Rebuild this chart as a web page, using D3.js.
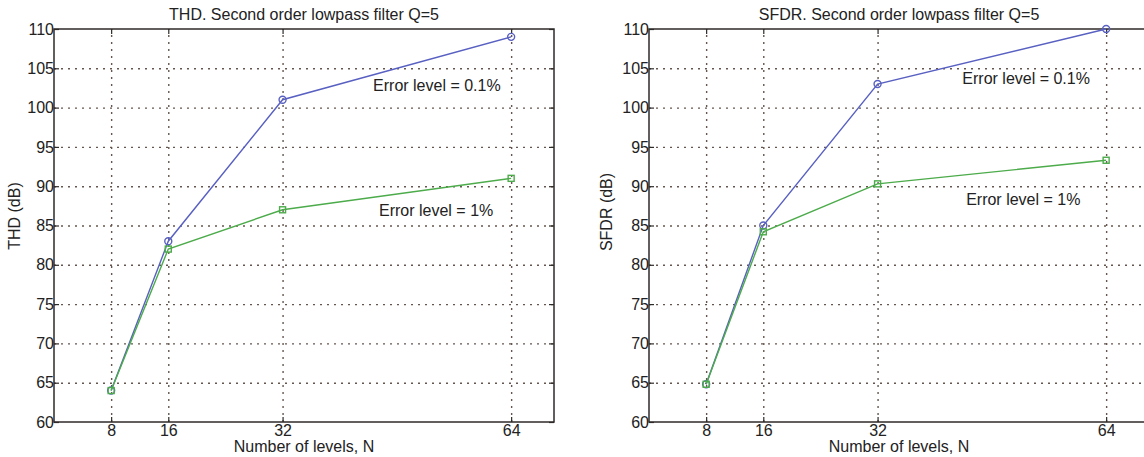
<!DOCTYPE html>
<html>
<head>
<meta charset="utf-8">
<script src="https://cdn.jsdelivr.net/npm/d3@7"></script>
<style>
  html, body { margin: 0; padding: 0; background: #fff; overflow: hidden; }
  svg { display: block; }
  text { font-family: "Liberation Sans", Arial, Helvetica, sans-serif; fill: #222; }
</style>
</head>
<body>
<svg id="chart" width="1144" height="457"></svg>
<script>
// ---- data ----
const levels = [8, 16, 32, 64];
const xTickLabels = ["8", "16", "32", "64"];
const yTicks = [60, 65, 70, 75, 80, 85, 90, 95, 100, 105, 110];
const thdErr01 = [64, 83, 101, 109];
const thdErr1 = [64, 82, 87, 91];
const sfdrErr01 = [64.8, 85, 103, 110];
const sfdrErr1 = [64.8, 84.2, 90.3, 93.3];
const seriesNames = ["Error level = 0.1%", "Error level = 1%"];
const titles = ["THD. Second order lowpass filter Q=5", "SFDR. Second order lowpass filter Q=5"];
const yLabels = ["THD (dB)", "SFDR (dB)"];
const xLabel = "Number of levels, N";

// ---- layout ----
const panels = [
  { left: 54, top: 29, width: 500, height: 393, a: thdErr01, b: thdErr1,
    title: titles[0], ylabel: yLabels[0], ylx: 20, yly: 216,
    ann: [[53.6, 102.8], [53.5, 86.9]] },
  { left: 649, top: 29, width: 500, height: 393, a: sfdrErr01, b: sfdrErr1,
    title: titles[1], ylabel: yLabels[1], ylx: 612, yly: 212,
    ann: [[52.8, 103.7], [52.4, 88.3]] }
];
const blue = "#5860c2";
const green = "#4cab4a";
const gridColor = "#65574f";
const axisColor = "#2e2a28";

const svg = d3.select("#chart");

panels.forEach(p => {
  const x = d3.scaleLinear().domain([0, 70]).range([0, p.width]);
  const y = d3.scaleLinear().domain([60, 110]).range([p.height, 0]);
  const g = svg.append("g").attr("transform", `translate(${p.left},${p.top})`);

  // grid
  const gx = g.append("g").attr("transform", `translate(0,${p.height})`)
    .call(d3.axisBottom(x).tickValues(levels).tickSize(-p.height).tickFormat(""));
  const gy = g.append("g")
    .call(d3.axisLeft(y).tickValues(yTicks.slice(1, -1)).tickSize(-p.width).tickFormat(""));
  [gx, gy].forEach(a => {
    a.select(".domain").remove();
    a.selectAll("line").attr("stroke", gridColor).attr("stroke-width", 1.4)
      .attr("stroke-dasharray", "2,5");
  });

  // box
  g.append("rect").attr("x", 0).attr("y", 0).attr("width", p.width).attr("height", p.height)
    .attr("fill", "none").attr("stroke", axisColor).attr("stroke-width", 1.5);

  // axes with inward ticks
  const ax = g.append("g").attr("transform", `translate(0,${p.height})`)
    .call(d3.axisBottom(x).tickValues(levels).tickSize(-5).tickPadding(3)
      .tickFormat((d, i) => xTickLabels[i]));
  const axTop = g.append("g")
    .call(d3.axisTop(x).tickValues(levels).tickSize(-5).tickFormat(""));
  const ay = g.append("g")
    .call(d3.axisLeft(y).tickValues(yTicks).tickSize(-5).tickPadding(0));
  const ayR = g.append("g").attr("transform", `translate(${p.width},0)`)
    .call(d3.axisRight(y).tickValues(yTicks).tickSize(-5).tickFormat(""));
  [ax, axTop, ay, ayR].forEach(a => {
    a.select(".domain").remove();
    a.selectAll("line").attr("stroke", axisColor).attr("stroke-width", 1.2);
    a.selectAll("text").style("font-size", "16px")
      .style("font-family", '"Liberation Sans", Arial, sans-serif').attr("fill", "#222");
  });

  // lines
  const line = d3.line().x((d, i) => x(levels[i])).y(d => y(d));
  g.append("path").datum(p.a).attr("d", line).attr("fill", "none")
    .attr("stroke", blue).attr("stroke-width", 1.4);
  g.selectAll(".mk-a").data(p.a).enter().append("circle")
    .attr("cx", (d, i) => x(levels[i])).attr("cy", d => y(d)).attr("r", 3.5)
    .attr("fill", "none").attr("stroke", blue).attr("stroke-width", 1.4);
  g.append("path").datum(p.b).attr("d", line).attr("fill", "none")
    .attr("stroke", green).attr("stroke-width", 1.4);
  g.selectAll(".mk-b").data(p.b).enter().append("rect")
    .attr("x", (d, i) => x(levels[i]) - 3).attr("y", d => y(d) - 3)
    .attr("width", 6).attr("height", 6)
    .attr("fill", "none").attr("stroke", green).attr("stroke-width", 1.4);

  // annotations
  p.ann.forEach((a, i) => {
    g.append("text").attr("x", x(a[0])).attr("y", y(a[1])).attr("dy", "0.35em")
      .attr("text-anchor", "middle").style("font-size", "16px").text(seriesNames[i]);
  });

  // title
  g.append("text").attr("x", p.width / 2).attr("y", -9).attr("text-anchor", "middle")
    .style("font-size", "16px").text(p.title);

  // x label
  g.append("text").attr("x", p.width / 2).attr("y", p.height + 30).attr("text-anchor", "middle")
    .style("font-size", "16px").text(xLabel);

  // y label
  svg.append("text").attr("transform", `translate(${p.ylx},${p.yly}) rotate(-90)`)
    .attr("text-anchor", "middle").style("font-size", "16px").text(p.ylabel);
});
</script>
</body>
</html>
